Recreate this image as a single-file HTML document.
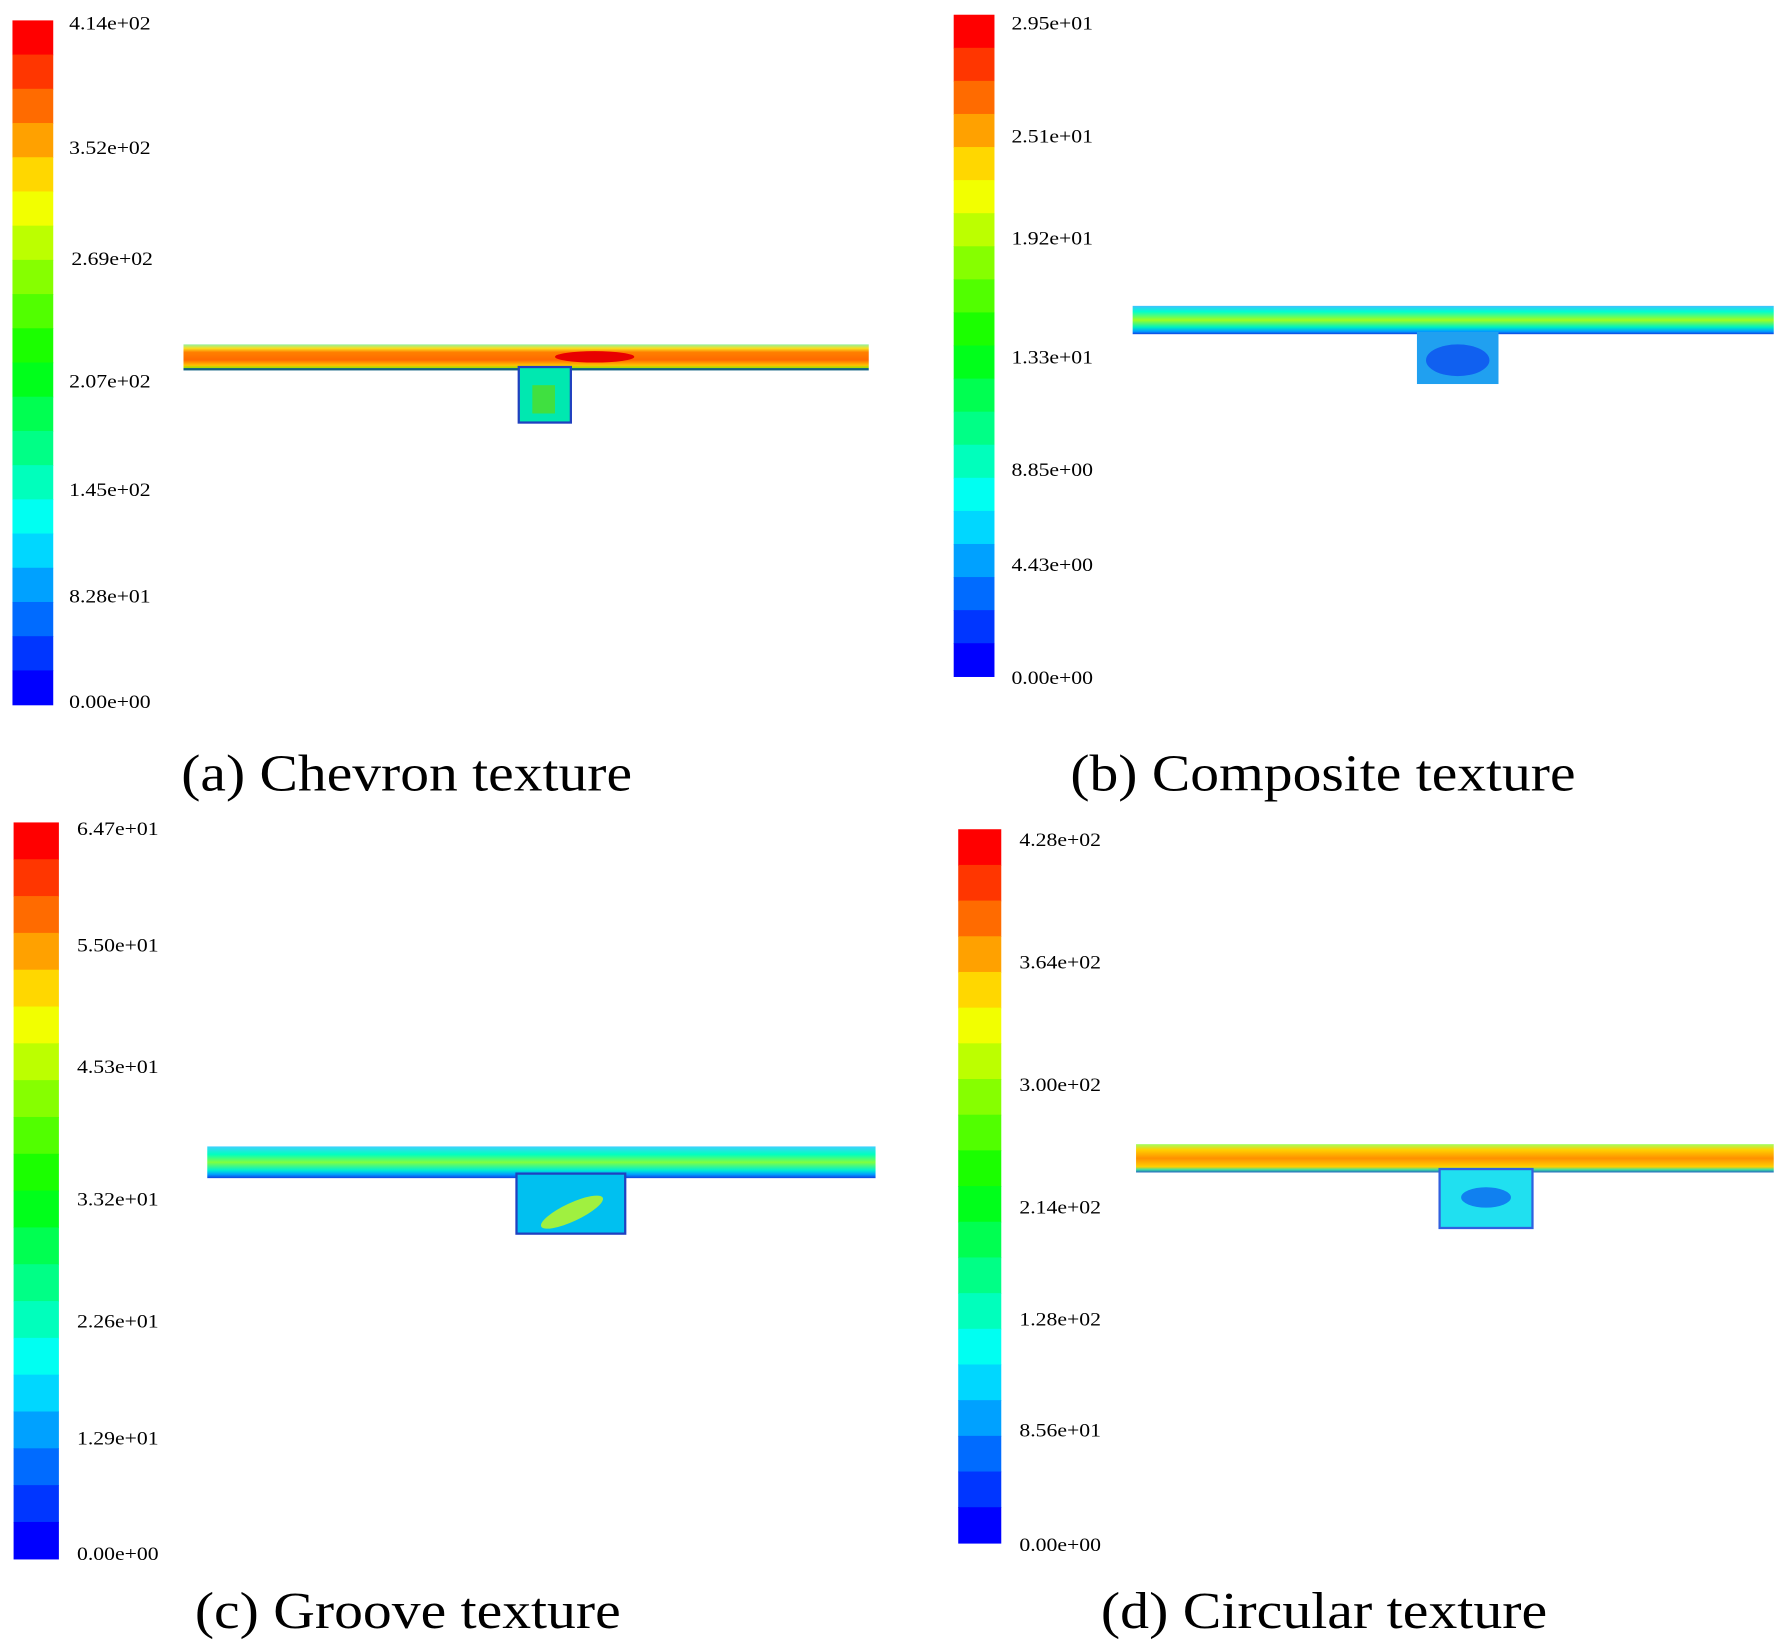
<!DOCTYPE html>
<html><head><meta charset="utf-8"><style>
html,body{margin:0;padding:0;background:#fff;}
svg{display:block}
text{font-family:"Liberation Serif",serif;fill:#000}
.t{font-size:17px}
.c{font-size:46px}
</style></head><body>
<svg id="s" width="1776" height="1646" viewBox="0 0 1568 1453" preserveAspectRatio="none" xmlns="http://www.w3.org/2000/svg">
<defs>
<linearGradient id="ga" x1="0" y1="0" x2="0" y2="1">
<stop offset="0" stop-color="#90f0a0"/><stop offset="0.15" stop-color="#f8e020"/><stop offset="0.3" stop-color="#ff8000"/><stop offset="0.6" stop-color="#ff6a00"/><stop offset="0.8" stop-color="#ffc000"/><stop offset="0.9" stop-color="#a0e000"/><stop offset="0.92" stop-color="#106080"/><stop offset="1" stop-color="#106080"/></linearGradient>
<linearGradient id="gb" x1="0" y1="0" x2="0" y2="1">
<stop offset="0" stop-color="#40c0ff"/><stop offset="0.2" stop-color="#00ffd0"/><stop offset="0.5" stop-color="#a0ff20"/><stop offset="0.75" stop-color="#00f0c0"/><stop offset="0.9" stop-color="#00a0ff"/><stop offset="1" stop-color="#1040e0"/></linearGradient>
<linearGradient id="gc" x1="0" y1="0" x2="0" y2="1">
<stop offset="0" stop-color="#40d0ff"/><stop offset="0.25" stop-color="#00ffc0"/><stop offset="0.5" stop-color="#80ff40"/><stop offset="0.75" stop-color="#00f0d0"/><stop offset="0.88" stop-color="#00a0ff"/><stop offset="1" stop-color="#1040e0"/></linearGradient>
<linearGradient id="gd" x1="0" y1="0" x2="0" y2="1">
<stop offset="0" stop-color="#a0ff60"/><stop offset="0.2" stop-color="#ffd000"/><stop offset="0.5" stop-color="#ff9000"/><stop offset="0.8" stop-color="#ffd000"/><stop offset="0.9" stop-color="#40e0a0"/><stop offset="1" stop-color="#2060c0"/></linearGradient>
</defs>
<g id="bars"></g>
<rect x="162" y="304" width="605" height="23" fill="url(#ga)"/>
<ellipse cx="525" cy="315" rx="35" ry="5" fill="#e80000"/>
<rect x="458" y="324" width="46" height="49" fill="#00e8b0" stroke="#2040c0" stroke-width="2"/>
<rect x="470" y="340" width="20" height="25" fill="#40e040"/>
<rect x="1000" y="270" width="566" height="25" fill="url(#gb)"/>
<rect x="1251" y="293" width="72" height="46" fill="#20a0f0"/>
<ellipse cx="1287" cy="318" rx="28" ry="14" fill="#1060f0"/>
<rect x="183" y="1012" width="590" height="28" fill="url(#gc)"/>
<rect x="456" y="1036" width="96" height="53" fill="#00c0f0" stroke="#2040c0" stroke-width="2"/>
<ellipse cx="505" cy="1070" rx="30" ry="8" fill="#a0f040" transform="rotate(-25 505 1070)"/>
<rect x="1003" y="1010" width="563" height="25" fill="url(#gd)"/>
<rect x="1271" y="1032" width="82" height="52" fill="#20e0f0" stroke="#3060e0" stroke-width="2"/>
<ellipse cx="1312" cy="1057" rx="22" ry="9" fill="#1080f0"/>
<g class="t" id="lbl">
<text x="61" y="26">4.14e+02</text><text x="61" y="136">3.52e+02</text><text x="63" y="234">2.69e+02</text><text x="61" y="342">2.07e+02</text><text x="61" y="438">1.45e+02</text><text x="61" y="532">8.28e+01</text><text x="61" y="625">0.00e+00</text>
<text x="893" y="26">2.95e+01</text><text x="893" y="126">2.51e+01</text><text x="893" y="216">1.92e+01</text><text x="893" y="321">1.33e+01</text><text x="893" y="420">8.85e+00</text><text x="893" y="504">4.43e+00</text><text x="893" y="604">0.00e+00</text>
<text x="68" y="737">6.47e+01</text><text x="68" y="840">5.50e+01</text><text x="68" y="947">4.53e+01</text><text x="68" y="1064">3.32e+01</text><text x="68" y="1172">2.26e+01</text><text x="68" y="1275">1.29e+01</text><text x="68" y="1377">0.00e+00</text>
<text x="900" y="747">4.28e+02</text><text x="900" y="855">3.64e+02</text><text x="900" y="963">3.00e+02</text><text x="900" y="1071">2.14e+02</text><text x="900" y="1170">1.28e+02</text><text x="900" y="1268">8.56e+01</text><text x="900" y="1369">0.00e+00</text>
</g>
<g class="c">
<text x="160" y="698" textLength="398" lengthAdjust="spacingAndGlyphs">(a) Chevron texture</text>
<text x="945" y="698" textLength="446" lengthAdjust="spacingAndGlyphs">(b) Composite texture</text>
<text x="172" y="1437" textLength="376" lengthAdjust="spacingAndGlyphs">(c) Groove texture</text>
<text x="972" y="1437" textLength="394" lengthAdjust="spacingAndGlyphs">(d) Circular texture</text>
</g>
</svg>
<script>
(function(){
var g=document.getElementById('bars');
var bars=[[11,18,36,604],[842,13,36,584],[12,726,40,650],[846,732,38,630]];
var N=20;
bars.forEach(function(b){
 var h=b[3]/N;
 for(var i=0;i<N;i++){
  var hue=240*i/(N-1);
  var r=document.createElementNS('http://www.w3.org/2000/svg','rect');
  r.setAttribute('x',b[0]);r.setAttribute('y',(b[1]+i*h).toFixed(2));
  r.setAttribute('width',b[2]);r.setAttribute('height',(h+0.6).toFixed(2));
  r.setAttribute('fill','hsl('+hue+',100%,50%)');
  g.appendChild(r);
 }
});
var ts=document.querySelectorAll('#lbl text');
for(var i=0;i<ts.length;i++){ts[i].setAttribute('textLength','72');ts[i].setAttribute('lengthAdjust','spacingAndGlyphs');}
})();
</script>
</body></html>
